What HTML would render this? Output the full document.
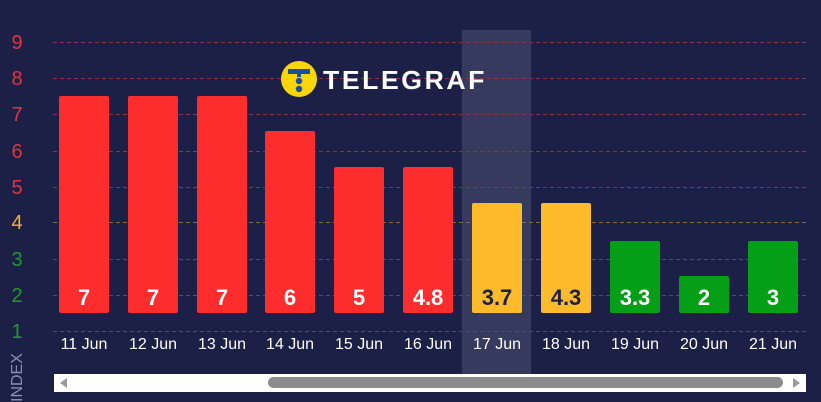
<!DOCTYPE html>
<html><head><style>
html,body{margin:0;padding:0;background:#1c2046;width:821px;height:402px;overflow:hidden;font-family:"Liberation Sans",sans-serif}
</style></head><body>
<svg width="821" height="402" xmlns="http://www.w3.org/2000/svg" font-family="Liberation Sans, sans-serif">
<rect width="821" height="402" fill="#1c2046"/>
<rect x="462" y="30" width="69" height="345" fill="#353a5e"/>
<g stroke-dasharray="4,3" stroke-width="1">
<line x1="53" x2="806" y1="42.5" y2="42.5" stroke="#8a3448"/>
<line x1="53" x2="806" y1="78.5" y2="78.5" stroke="#8a3448"/>
<line x1="53" x2="806" y1="114.5" y2="114.5" stroke="#8a3448"/>
<line x1="53" x2="806" y1="151.5" y2="151.5" stroke="#8a3448"/>
<line x1="53" x2="806" y1="187.5" y2="187.5" stroke="#8a3448"/>
<line x1="53" x2="806" y1="222.5" y2="222.5" stroke="#8a6c3c"/>
<line x1="53" x2="806" y1="259.5" y2="259.5" stroke="#4a4f6e"/>
<line x1="53" x2="806" y1="295.5" y2="295.5" stroke="#4a4f6e"/>
<line x1="53" x2="806" y1="331.5" y2="331.5" stroke="#4a4f6e"/>
</g>
<g font-size="20" text-anchor="middle">
<text x="17" y="49" fill="#e0353f">9</text>
<text x="17" y="85" fill="#e0353f">8</text>
<text x="17" y="121" fill="#e0353f">7</text>
<text x="17" y="158" fill="#e0353f">6</text>
<text x="17" y="194" fill="#e0353f">5</text>
<text x="17" y="229" fill="#f0b23c">4</text>
<text x="17" y="266" fill="#1e9a2a">3</text>
<text x="17" y="302" fill="#1e9a2a">2</text>
<text x="17" y="338" fill="#1e9a2a">1</text>
</g>
<text transform="translate(22,402) rotate(-90)" font-size="16" fill="#8a8fb0">INDEX</text>
<g>
<rect x="59" y="96" width="50" height="217" rx="2" fill="#fd2c2d"/>
<rect x="128" y="96" width="50" height="217" rx="2" fill="#fd2c2d"/>
<rect x="197" y="96" width="50" height="217" rx="2" fill="#fd2c2d"/>
<rect x="265" y="131" width="50" height="182" rx="2" fill="#fd2c2d"/>
<rect x="334" y="167" width="50" height="146" rx="2" fill="#fd2c2d"/>
<rect x="403" y="167" width="50" height="146" rx="2" fill="#fd2c2d"/>
<rect x="472" y="203" width="50" height="110" rx="2" fill="#fdba2b"/>
<rect x="541" y="203" width="50" height="110" rx="2" fill="#fdba2b"/>
<rect x="610" y="241" width="50" height="72" rx="2" fill="#059e17"/>
<rect x="679" y="276" width="50" height="37" rx="2" fill="#059e17"/>
<rect x="748" y="241" width="50" height="72" rx="2" fill="#059e17"/>
</g>
<g font-size="22" font-weight="bold" text-anchor="middle" fill="#fff">
<text x="84" y="305">7</text><text x="153" y="305">7</text><text x="222" y="305">7</text>
<text x="290" y="305">6</text><text x="359" y="305">5</text><text x="428" y="305">4.8</text>
<text x="497" y="305" fill="#1c2046">3.7</text><text x="566" y="305" fill="#1c2046">4.3</text>
<text x="635" y="305">3.3</text><text x="704" y="305">2</text><text x="773" y="305">3</text>
</g>
<g font-size="16" text-anchor="middle" fill="#fff">
<text x="84" y="349">11 Jun</text><text x="153" y="349">12 Jun</text><text x="222" y="349">13 Jun</text>
<text x="290" y="349">14 Jun</text><text x="359" y="349">15 Jun</text><text x="428" y="349">16 Jun</text>
<text x="497" y="349">17 Jun</text><text x="566" y="349">18 Jun</text><text x="635" y="349">19 Jun</text>
<text x="704" y="349">20 Jun</text><text x="773" y="349">21 Jun</text>
</g>
<rect x="54" y="374" width="752" height="18" fill="#fff"/>
<rect x="268" y="377" width="515" height="11" rx="5.5" fill="#8c8c8c"/>
<polygon points="60,383 67,378 67,388" fill="#999"/>
<polygon points="800,383 793,378 793,388" fill="#999"/>
<circle cx="299" cy="79" r="18" fill="#fbd50b"/>
<rect x="288" y="69" width="22" height="5" fill="#1a4f9a"/>
<rect x="297" y="74" width="4" height="3" fill="#1a4f9a"/>
<circle cx="299" cy="81" r="3.2" fill="#1a4f9a"/>
<circle cx="299" cy="89" r="3.2" fill="#1a4f9a"/>
<text x="323" y="89" font-size="26" font-weight="bold" fill="#fff" letter-spacing="2.5" textLength="164" lengthAdjust="spacingAndGlyphs">TELEGRAF</text>
</svg>
</body></html>
